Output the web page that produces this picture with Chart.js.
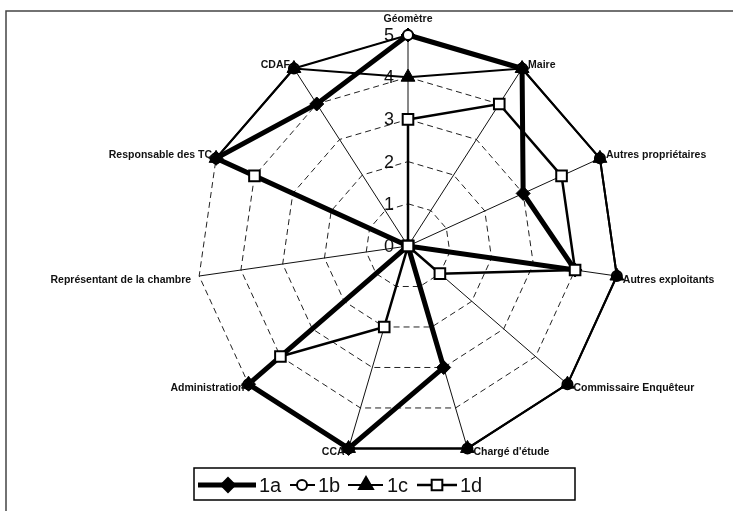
<!DOCTYPE html>
<html>
<head>
<meta charset="utf-8">
<script src="https://cdn.jsdelivr.net/npm/chart.js"></script>
<style>
  html, body { margin: 0; padding: 0; background: #fff; }
  #graphe { display: block; }
</style>
</head>
<body>
<canvas id="graphe" width="733" height="512"></canvas>
<script>
// Axes du radar (sens horaire depuis le haut)
const categories = [
  'Géomètre', 'Maire', 'Autres propriétaires', 'Autres exploitants',
  'Commissaire Enquêteur', "Chargé d'étude", 'CCA', 'Administration',
  'Représentant de la chambre', 'Responsable des TC', 'CDAF'
];

// Séries
const serie1a = [5, 5, 3, 4, 0, 3, 5, 5, 0, 5, 4];
const serie1b = [5, 5, 5, 5, 5, 5, 5, 5, 0, 5, 5];
const serie1c = [4, 5, 5, 5, 5, 5, 5, 5, 0, 5, 5];
const serie1d = [3, 4, 4, 4, 1, 0, 2, 4, 0, 4, 0];

const nomsSeries = ['1a', '1b', '1c', '1d'];
const valeursTicks = [0, 1, 2, 3, 4, 5];

const canvas = document.getElementById('graphe');
const ctx = canvas.getContext('2d');

// petits marqueurs pour la légende
function dessinerMarqueur(c, style, x, y, r, fond) {
  c.save();
  c.beginPath();
  if (style === 'rectRot') {
    c.moveTo(x, y - r); c.lineTo(x + r, y); c.lineTo(x, y + r); c.lineTo(x - r, y);
    c.closePath();
  } else if (style === 'circle') {
    c.arc(x, y, r, 0, Math.PI * 2);
  } else if (style === 'triangle') {
    c.moveTo(x, y - r); c.lineTo(x + r * 0.87, y + r * 0.5); c.lineTo(x - r * 0.87, y + r * 0.5);
    c.closePath();
  } else {
    const s = r * 0.71;
    c.rect(x - s, y - s, 2 * s, 2 * s);
  }
  c.fillStyle = fond;
  c.fill();
  c.lineWidth = 2;
  c.strokeStyle = '#000';
  c.stroke();
  c.restore();
}

const cadreEtTextes = {
  id: 'cadreEtTextes',
  beforeDraw(chart) {
    const c = chart.ctx;
    c.save();
    c.fillStyle = '#fff';
    c.fillRect(0, 0, chart.width, chart.height);
    // cadre du scan
    c.strokeStyle = '#444';
    c.lineWidth = 1.5;
    c.beginPath();
    c.moveTo(6, 511);
    c.lineTo(6, 11);
    c.lineTo(733, 11);
    c.stroke();
    c.restore();
  },
  beforeDatasetsDraw(chart) {
    // graduations 0..5 à gauche de l'axe Géomètre
    const r = chart.scales.r;
    const c = chart.ctx;
    c.save();
    c.fillStyle = '#111';
    c.font = '18px Arial, "Liberation Sans", sans-serif';
    c.textAlign = 'center';
    c.textBaseline = 'middle';
    valeursTicks.forEach(v => {
      const d = r.getDistanceFromCenterForValue(v);
      c.fillText(String(v), r.xCenter - 19, r.yCenter - d + 1);
    });
    c.restore();
  },
  afterDraw(chart) {
    const r = chart.scales.r;
    const c = chart.ctx;
    c.save();
    // étiquettes des axes
    c.fillStyle = '#111';
    c.font = 'bold 10.5px Arial, "Liberation Sans", sans-serif';
    c.textBaseline = 'middle';
    categories.forEach((lab, i) => {
      const p = r.getPointPosition(i, r.drawingArea);
      const dx = p.x - r.xCenter;
      const ybas = p.y > r.yCenter;
      if (Math.abs(dx) < 2) {
        c.textAlign = 'center';
        c.fillText(lab, p.x, p.y - 16);
      } else if (dx > 0) {
        c.textAlign = 'left';
        c.fillText(lab, p.x + 6, p.y + (ybas ? 4 : -3));
      } else {
        c.textAlign = 'right';
        c.fillText(lab, p.x - (i === 8 ? 8 : 4), p.y + (ybas ? 4 : -3));
      }
    });

    // légende encadrée
    c.strokeStyle = '#000';
    c.lineWidth = 1.5;
    c.strokeRect(194, 468, 381, 32);
    const ym = 485;
    const items = [
      { x0: 198, x1: 256, xm: 228, xt: 259 },
      { x0: 290, x1: 315, xm: 302, xt: 318 },
      { x0: 348, x1: 383, xm: 366, xt: 387 },
      { x0: 417, x1: 457, xm: 437, xt: 460 }
    ];
    c.font = '20px Arial, "Liberation Sans", sans-serif';
    c.textAlign = 'left';
    c.textBaseline = 'middle';
    nomsSeries.forEach((nom, k) => {
      const ds = chart.data.datasets.find(d => d.label === nom);
      const it = items[k];
      c.beginPath();
      c.strokeStyle = '#000';
      c.lineWidth = ds.borderWidth;
      c.moveTo(it.x0, ym);
      c.lineTo(it.x1, ym);
      c.stroke();
      dessinerMarqueur(c, ds.pointStyle, it.xm, ym, ds.pointRadius, ds.pointBackgroundColor);
      c.fillStyle = '#111';
      c.fillText(nom, it.xt, ym + 1);
    });
    c.restore();
  }
};

const graphe = new Chart(ctx, {
  type: 'radar',
  data: {
    labels: categories,
    datasets: [
      {
        label: '1a', data: serie1a, order: 3,
        borderColor: '#000', borderWidth: 5, fill: false,
        pointStyle: 'rectRot', pointRadius: 7,
        pointBackgroundColor: '#000', pointBorderColor: '#000', pointBorderWidth: 1
      },
      {
        label: '1b', data: serie1b, order: 2,
        borderColor: '#000', borderWidth: 2, fill: false,
        pointStyle: 'circle', pointRadius: 5,
        pointBackgroundColor: '#fff', pointBorderColor: '#000', pointBorderWidth: 2
      },
      {
        label: '1c', data: serie1c, order: 1,
        borderColor: '#000', borderWidth: 2, fill: false,
        pointStyle: 'triangle', pointRadius: 8,
        pointBackgroundColor: '#000', pointBorderColor: '#000', pointBorderWidth: 1
      },
      {
        label: '1d', data: serie1d, order: 0,
        borderColor: '#000', borderWidth: 2.5, fill: false,
        pointStyle: 'rect', pointRadius: 7.5,
        pointBackgroundColor: '#fff', pointBorderColor: '#000', pointBorderWidth: 2
      }
    ]
  },
  options: {
    responsive: false,
    animation: false,
    devicePixelRatio: 1,
    layout: { padding: { left: 197, right: 114, top: 35, bottom: 55 } },
    elements: { line: { tension: 0 } },
    scales: {
      r: {
        min: 0,
        max: 5,
        ticks: { display: false, stepSize: 1 },
        pointLabels: { display: false },
        grid: { color: '#222', lineWidth: 1, circular: false },
        border: { dash: [6, 4] },
        angleLines: { color: '#111', lineWidth: 1 }
      }
    },
    plugins: {
      legend: { display: false },
      tooltip: { enabled: false }
    }
  },
  plugins: [cadreEtTextes]
});
</script>
</body>
</html>
